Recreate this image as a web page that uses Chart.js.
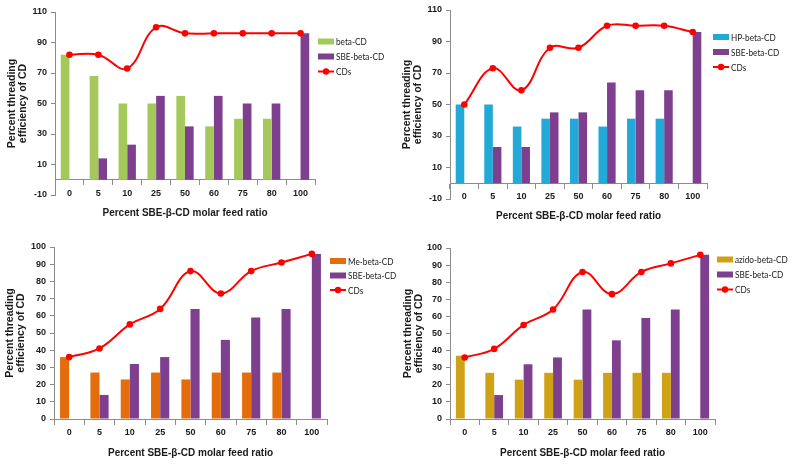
<!DOCTYPE html>
<html>
<head>
<meta charset="utf-8">
<script src="https://cdn.jsdelivr.net/npm/chart.js@4.4.1/dist/chart.umd.min.js"></script>
<style>
  body { margin: 0; background: #fff; width: 800px; height: 464px; position: relative; overflow: hidden; }
  canvas { position: absolute; }
</style>
</head>
<body>
<canvas id="panelA" width="400" height="234" style="left:0;top:0"></canvas>
<canvas id="panelB" width="400" height="238" style="left:400px;top:0"></canvas>
<canvas id="panelC" width="400" height="227" style="left:0;top:232px"></canvas>
<canvas id="panelD" width="400" height="227" style="left:400px;top:232px"></canvas>
<script>
// x categories (percent SBE-beta-CD in feed)
const feedRatios = ["0", "5", "10", "25", "50", "60", "75", "80", "100"];

// top-left panel
const betaCD = [82, 68, 50, 50, 55, 35, 40, 40, 0];
const sbeA = [0, 14, 23, 55, 35, 55, 50, 50, 96];
const cdsA = [82, 82, 73, 100, 96, 96, 96, 96, 96];

// top-right panel
const hpBetaCD = [50, 50, 36, 41, 41, 36, 41, 41, 0];
const sbeB = [0, 23, 23, 45, 45, 64, 59, 59, 96];
const cdsB = [50, 73, 59, 86, 86, 100, 100, 100, 96];

// bottom-left panel
const meBetaCD = [36, 27, 23, 27, 23, 27, 27, 27, 0];
const sbeC = [0, 14, 32, 36, 64, 46, 59, 64, 96];
const cdsC = [36, 41, 55, 64, 86, 73, 86, 91, 96];

// bottom-right panel
const azidoBetaCD = [37, 27, 23, 27, 23, 27, 27, 27, 0];
const sbeD = [0, 14, 32, 36, 64, 46, 59, 64, 96];
const cdsD = [36, 41, 55, 64, 86, 73, 86, 91, 96];

const topAxis = [-10, 110, 20];    // min, max, step
const bottomAxis = [0, 100, 10];

const RED = "#ff0000";
const PURPLE = "#7e3f8e";
const AXIS = "#8c8c8c";
const TEXT = "#1a1a1a";
const FONT = "'Liberation Sans', Arial, sans-serif";

// legend drawn beside the plot, like the excel one
const sideLegend = {
  id: "sideLegend",
  afterDraw(chart, args, opts) {
    const ctx = chart.ctx;
    ctx.save();
    ctx.font = "10px Lato, sans-serif";
    ctx.textBaseline = "middle";
    chart.data.datasets.forEach((ds, i) => {
      const x = opts.x;
      const y = opts.y + i * opts.step;
      if (ds.type === "line") {
        ctx.strokeStyle = ds.borderColor;
        ctx.lineWidth = 2;
        ctx.beginPath();
        ctx.moveTo(x, y);
        ctx.lineTo(x + 16, y);
        ctx.stroke();
        ctx.fillStyle = ds.borderColor;
        ctx.beginPath();
        ctx.arc(x + 8, y, 3.2, 0, Math.PI * 2);
        ctx.fill();
      } else {
        ctx.fillStyle = ds.backgroundColor;
        ctx.fillRect(x, y - 3, 16, 6);
      }
      // squeeze the text a bit, the original font is a narrow one
      ctx.save();
      ctx.translate(x + 18, y + 0.5);
      ctx.scale(0.82, 1);
      ctx.fillStyle = TEXT;
      ctx.fillText(ds.label, 0, 0);
      ctx.restore();
    });
    ctx.restore();
  }
};

function makePanel(id, p) {
  new Chart(document.getElementById(id), {
    type: "bar",
    data: {
      labels: feedRatios,
      datasets: [
        { label: p.name, data: p.first, backgroundColor: p.color, order: 2 },
        { label: "SBE-beta-CD", data: p.sbe, backgroundColor: PURPLE, order: 2 },
        {
          label: "CDs", type: "line", data: p.cds,
          borderColor: RED, backgroundColor: RED, borderWidth: 2,
          pointRadius: 3.3, pointBorderWidth: 0, tension: 0.4, order: 1
        }
      ]
    },
    options: {
      responsive: false,
      animation: false,
      categoryPercentage: 0.6,
      barPercentage: 1.0,
      // the x axis sits at y = 0 and takes no layout room, so reserve it here
      layout: { padding: { top: p.top, right: p.right, left: 0, bottom: p.xH } },
      plugins: {
        legend: { display: false },
        tooltip: { enabled: false },
        sideLegend: p.legend
      },
      scales: {
        x: {
          position: { y: 0 },
          grid: { drawOnChartArea: false, tickLength: 5, color: AXIS, offset: true },
          border: { color: AXIS },
          ticks: { font: { family: FONT, size: 9, weight: "bold" }, color: TEXT, padding: 3, maxRotation: 0 },
          title: {
            display: true, text: "Percent SBE-β-CD molar feed ratio", color: TEXT,
            font: { family: FONT, size: 10, weight: "bold", lineHeight: 1.2 }, padding: 0
          },
          afterFit: s => { s.height = p.xH; }
        },
        y: {
          min: p.axis[0], max: p.axis[1],
          grid: { drawOnChartArea: false, tickLength: 4, color: AXIS },
          border: { color: AXIS },
          ticks: { stepSize: p.axis[2], font: { family: FONT, size: 9, weight: "bold" }, color: TEXT, padding: 4 },
          title: {
            display: true, text: ["Percent threading", "efficiency of CD"], color: TEXT,
            font: { family: FONT, size: 10.5, weight: "bold", lineHeight: 1 }, padding: { top: p.titlePad, bottom: 0 }
          },
          afterFit: s => { s.width = p.yW; }
        }
      }
    },
    plugins: [sideLegend]
  });
}

makePanel("panelA", {
  name: "beta-CD", color: "#a4c95a", first: betaCD, sbe: sbeA, cds: cdsA, axis: topAxis,
  top: 12, right: 85, yW: 55, xH: 39, titlePad: 7,
  legend: { x: 318, y: 41.5, step: 15 }
});
makePanel("panelB", {
  name: "HP-beta-CD", color: "#22a9d8", first: hpBetaCD, sbe: sbeB, cds: cdsB, axis: topAxis,
  top: 10, right: 93, yW: 50, xH: 39, titlePad: 2,
  legend: { x: 313, y: 37, step: 15 }
});
makePanel("panelC", {
  name: "Me-beta-CD", color: "#e46c0a", first: meBetaCD, sbe: sbeC, cds: cdsC, axis: bottomAxis,
  top: 15, right: 73, yW: 54, xH: 40, titlePad: 5,
  legend: { x: 330, y: 29, step: 14.5 }
});
makePanel("panelD", {
  name: "azido-beta-CD", color: "#cfa114", first: azidoBetaCD, sbe: sbeD, cds: cdsD, axis: bottomAxis,
  top: 16, right: 85, yW: 50, xH: 40, titlePad: 3,
  legend: { x: 317, y: 27.5, step: 15 }
});
</script>
</body>
</html>
